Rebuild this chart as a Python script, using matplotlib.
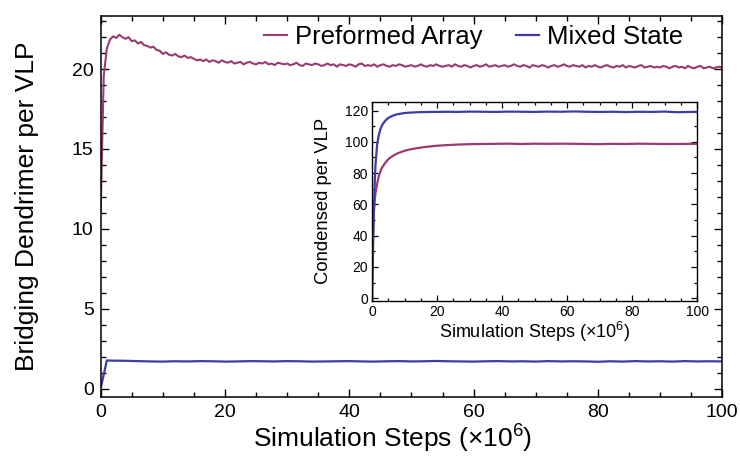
import numpy as np
import matplotlib
matplotlib.use("Agg")
import matplotlib.pyplot as plt
from matplotlib.ticker import MultipleLocator

plt.rcParams['font.family'] = ['Liberation Sans', 'DejaVu Sans']
plt.rcParams['mathtext.fontset'] = 'custom'
plt.rcParams['mathtext.rm'] = 'Liberation Sans'
plt.rcParams['mathtext.it'] = 'Liberation Sans:italic'

# main panel: bridging dendrimer per VLP, sampled every 0.5 x10^6 steps
steps_main = np.linspace(0, 100, 201)
bridging_preformed = [
    11.0, 19.6, 21.3, 21.85, 22.05, 21.95, 22.15, 22.0, 21.9, 22.0,
    21.75, 21.8, 21.6, 21.7, 21.5, 21.45, 21.35, 21.4, 21.2, 21.15,
    20.95, 21.05, 20.9, 20.85, 20.95, 20.8, 20.75, 20.85, 20.7, 20.75,
    20.65, 20.55, 20.6, 20.5, 20.6, 20.45, 20.55, 20.5, 20.4, 20.55,
    20.45, 20.4, 20.5, 20.35, 20.4, 20.45, 20.3, 20.4, 20.45, 20.35,
    20.3, 20.4, 20.35, 20.45, 20.3, 20.35, 20.25, 20.4, 20.35, 20.3,
    20.35, 20.25, 20.3, 20.4, 20.25, 20.2, 20.35, 20.3, 20.25, 20.35,
    20.3, 20.2, 20.25, 20.35, 20.25, 20.3, 20.15, 20.3, 20.25, 20.2,
    20.3, 20.25, 20.15, 20.3, 20.35, 20.2, 20.25, 20.2, 20.3, 20.15,
    20.25, 20.3, 20.2, 20.15, 20.25, 20.2, 20.3, 20.25, 20.15, 20.2,
    20.25, 20.15, 20.2, 20.3, 20.2, 20.15, 20.25, 20.2, 20.3, 20.2,
    20.15, 20.2, 20.25, 20.15, 20.3, 20.2, 20.15, 20.25, 20.2, 20.1,
    20.2, 20.25, 20.15, 20.2, 20.3, 20.15, 20.2, 20.25, 20.15, 20.2,
    20.25, 20.15, 20.2, 20.3, 20.2, 20.15, 20.25, 20.2, 20.1, 20.25,
    20.2, 20.15, 20.25, 20.2, 20.1, 20.2, 20.25, 20.15, 20.2, 20.3,
    20.2, 20.15, 20.25, 20.2, 20.15, 20.25, 20.1, 20.2, 20.15, 20.25,
    20.15, 20.1, 20.2, 20.25, 20.15, 20.1, 20.2, 20.15, 20.25, 20.1,
    20.2, 20.15, 20.1, 20.2, 20.25, 20.1, 20.15, 20.2, 20.1, 20.15,
    20.1, 20.2, 20.15, 20.05, 20.15, 20.2, 20.1, 20.15, 20.05, 20.2,
    20.1, 20.05, 20.15, 20.2, 20.05, 20.1, 20.15, 20.05, 20.1, 20.15,
    20.1,
]

steps_mixed = [0, 1] + list(range(2, 101, 2))
bridging_mixed = [
    0.0, 1.76,
    1.75, 1.74, 1.72, 1.70, 1.69, 1.71, 1.70, 1.72, 1.71,
    1.69, 1.70, 1.72, 1.71, 1.70, 1.72, 1.71, 1.69, 1.70, 1.71,
    1.72, 1.70, 1.69, 1.71, 1.72, 1.70, 1.71, 1.73, 1.71, 1.70,
    1.69, 1.71, 1.72, 1.70, 1.71, 1.69, 1.72, 1.70, 1.71, 1.70,
    1.68, 1.71, 1.69, 1.72, 1.70, 1.71, 1.69, 1.72, 1.70, 1.71,
    1.70,
]

# inset: condensed per VLP
steps_inset = [0, 0.25, 0.5, 0.75, 1, 1.5, 2, 2.5, 3, 4, 5, 6, 7, 8, 10, 12, 14, 16, 18, 20,
               23, 26, 30, 34, 38, 42, 46, 50, 54, 58, 62, 66, 70, 74, 78, 82, 86, 90, 94, 98, 100]
condensed_preformed = [
    23, 42, 55, 62, 67, 73, 78, 81, 83.5, 86.5,
    89, 90.5, 91.8, 92.8, 94.3, 95.3, 96.0, 96.6, 97.1, 97.5,
    97.9, 98.2, 98.5, 98.6, 98.7, 98.8, 98.6, 98.8, 98.7, 98.8,
    98.7, 98.6, 98.5, 98.7, 98.6, 98.8, 98.7, 98.6, 98.6, 98.7,
    98.6,
]
condensed_mixed = [
    0, 30, 55, 72, 85, 98, 104, 108, 110.5, 113.5,
    115.3, 116.4, 117.2, 117.7, 118.4, 118.7, 118.9, 119.0, 119.1, 119.1,
    119.2, 119.1, 119.3, 119.2, 119.1, 119.3, 119.2, 119.1, 119.3, 119.2,
    119.4, 119.2, 119.1, 119.2, 119.0, 119.2, 119.1, 119.3, 118.9, 119.1,
    119.0,
]

magenta = '#9b3a70'
blue = '#3d3da8'

fig = plt.figure(figsize=(7.4, 4.59), dpi=100)
ax = fig.add_axes([0.136, 0.136, 0.840, 0.830])

ax.plot(steps_main, bridging_preformed, color=magenta, lw=1.5, label='Preformed Array')
ax.plot(steps_mixed, bridging_mixed, color=blue, lw=1.6, label='Mixed State')

ax.set_xlim(0, 100)
ax.set_ylim(-0.5, 23.35)
ax.xaxis.set_major_locator(MultipleLocator(20))
ax.xaxis.set_minor_locator(MultipleLocator(5))
ax.yaxis.set_major_locator(MultipleLocator(5))
ax.yaxis.set_minor_locator(MultipleLocator(1))
ax.tick_params(which='both', direction='in', top=True, right=True, width=1)
ax.tick_params(which='major', length=6, labelsize=14, pad=5)
ax.tick_params(which='minor', length=3.5)
for s in ax.spines.values():
    s.set_linewidth(1.1)
ax.set_xlabel('Simulation Steps (×10$^{6}$)', fontsize=19, labelpad=2)
ax.xaxis.label.set_x(0.47)
ax.set_ylabel('Bridging Dendrimer per VLP', fontsize=19, labelpad=24)

ax.legend(loc='center', bbox_to_anchor=(0.60, 0.944), ncol=2, frameon=False,
          fontsize=18.5, handlelength=0.9, handletextpad=0.3, columnspacing=1.3)

ins = fig.add_axes([0.503, 0.345, 0.439, 0.433])
ins.plot(steps_inset, condensed_preformed, color=magenta, lw=1.6)
ins.plot(steps_inset, condensed_mixed, color=blue, lw=1.6)
ins.set_xlim(0, 100)
ins.set_ylim(-1.5, 125.5)
ins.xaxis.set_major_locator(MultipleLocator(20))
ins.xaxis.set_minor_locator(MultipleLocator(5))
ins.yaxis.set_major_locator(MultipleLocator(20))
ins.yaxis.set_minor_locator(MultipleLocator(10))
ins.tick_params(which='both', direction='in', top=True, right=True, width=0.9)
ins.tick_params(which='major', length=4.5, labelsize=10, pad=3)
ins.tick_params(which='minor', length=2.5)
for s in ins.spines.values():
    s.set_linewidth(1.0)
ins.set_xlabel('Simulation Steps (×10$^{6}$)', fontsize=13, labelpad=1)
ins.set_ylabel('Condensed per VLP', fontsize=13.3, labelpad=9)

fig.savefig('out.png', dpi=100)
